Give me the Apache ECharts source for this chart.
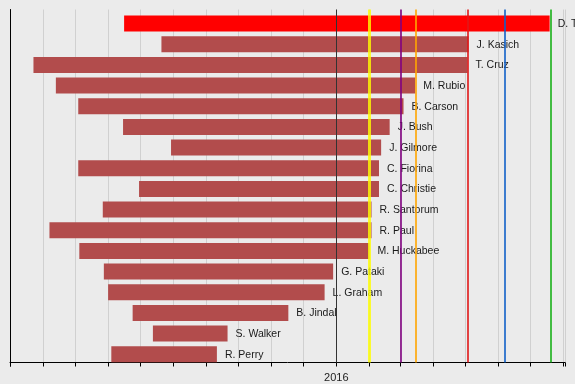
<!DOCTYPE html>
<html>
<head>
<meta charset="utf-8">
<script src="https://cdn.jsdelivr.net/npm/echarts@6/dist/echarts.min.js"></script>
<style>
html,body{margin:0;padding:0;background:#ebebeb;}
#chart{width:575px;height:384px;}
</style>
</head>
<body>
<div id="chart"></div>
<script>
const names = ['D. Trump','J. Kasich','T. Cruz','M. Rubio','B. Carson','J. Bush','J. Gilmore','C. Fiorina','C. Christie','R. Santorum','R. Paul','M. Huckabee','G. Pataki','L. Graham','B. Jindal','S. Walker','R. Perry'];
const starts = ['2015-06-16','2015-07-21','2015-03-23','2015-04-13','2015-05-04','2015-06-15','2015-07-30','2015-05-04','2015-06-30','2015-05-27','2015-04-07','2015-05-05','2015-05-28','2015-06-01','2015-06-24','2015-07-13','2015-06-04'];
const ends = ['2016-07-19','2016-05-04','2016-05-03','2016-03-15','2016-03-04','2016-02-20','2016-02-12','2016-02-10','2016-02-10','2016-02-03','2016-02-03','2016-02-01','2015-12-29','2015-12-21','2015-11-17','2015-09-21','2015-09-11'];
const eventDates = ['2016-02-01','2016-03-01','2016-03-15','2016-05-03','2016-06-07','2016-07-20'];
const eventColors = ['#ffff00','#800080','#ffa500','#e01818','#1060c8','#18b018'];
const axisStart = '2015-03-01';
const axisEnd = '2016-08-02 10:00';
const yearMark = '2016-01-01';

function t(s){
  const p = s.split(/[- :]/).map(Number);
  return new Date(p[0], p[1]-1, p[2], p[3]||0, p[4]||0).getTime();
}

const data = names.map((n,i)=>[t(starts[i]), t(ends[i]), names.length-1-i]);
const DAY = 24*3600*1000;

const chart = echarts.init(document.getElementById('chart'), null, {renderer:'canvas'});
chart.setOption({
  backgroundColor:'#ebebeb',
  animation:false,
  grid:{left:10,right:10,top:9.5,bottom:21.5,containLabel:false},
  xAxis:{
    type:'time',
    min:t(axisStart), max:t(axisEnd),
    splitNumber:18,
    minInterval:28*DAY, maxInterval:32*DAY,
    axisLine:{show:true,onZero:false,lineStyle:{color:'#000',width:1}},
    axisTick:{show:true,length:4,lineStyle:{color:'#000'}},
    splitLine:{show:true,lineStyle:{color:'#d0d0d0',width:1}},
    axisLabel:{
      color:'#222', fontSize:11, margin:10, fontFamily:'"Liberation Sans", Arial, sans-serif',
      hideOverlap:false, showMinLabel:true, showMaxLabel:true,
      formatter:function(v){const d=new Date(v);return (d.getMonth()===0&&d.getDate()===1)?String(d.getFullYear()):'';}
    }
  },
  yAxis:{
    type:'value', min:-0.4, max:16.68,
    axisLine:{show:true,onZero:false,lineStyle:{color:'#000',width:1}},
    axisTick:{show:false}, axisLabel:{show:false}, splitLine:{show:false}
  },
  series:[
    {
      type:'line', data:[], z:1, silent:true,
      markLine:{symbol:'none',silent:true,label:{show:false},animation:false,
        data:[{xAxis:t(yearMark),lineStyle:{color:'#333',width:1,type:'solid'}}]}
    },
    {
      type:'custom', z:2, clip:false,
      encode:{x:[0,1],y:2},
      data:data,
      renderItem:function(params, api){
        const s = api.coord([api.value(0), api.value(2)]);
        const e = api.coord([api.value(1), api.value(2)]);
        const h = api.size([0, 0.774])[1];
        const idx = params.dataIndex;
        return {type:'group', children:[
          {type:'rect', shape:{x:s[0], y:s[1]-h/2, width:e[0]-s[0], height:h},
           style:{fill: idx===0 ? '#ff0000' : '#b24c4c'}},
          {type:'text', x:e[0]+8, y:s[1]+0.5,
           style:{text:names[idx], fill:'#1a1a1a', font:'10.5px "Liberation Sans", Arial, sans-serif', verticalAlign:'middle', align:'left'}}
        ]};
      }
    },
    {
      type:'line', data:[], z:5, silent:true,
      markLine:{symbol:'none',silent:true,label:{show:false},animation:false,
        data:eventDates.map((d,i)=>({xAxis:t(d),lineStyle:{color:eventColors[i],width:i===0?3:2,type:'solid',opacity:0.8}}))}
    }
  ]
});
</script>
</body>
</html>
